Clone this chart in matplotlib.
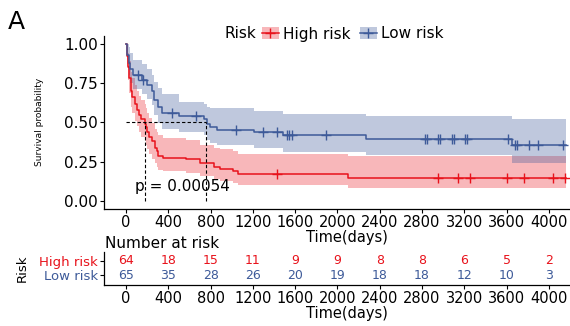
import numpy as np
import matplotlib
matplotlib.use('Agg')
import matplotlib.pyplot as plt
from matplotlib.patches import Patch
from matplotlib.lines import Line2D

# ---------------- data ----------------
end_time = 4160

hi_time  = [0, 10, 20, 30, 45, 60, 85, 100, 120, 140, 178, 185, 200, 220, 245, 270, 290, 305, 350, 570, 700, 830, 890, 1010, 1060, 2100]
hi_surv  = [1.00, 0.92, 0.85, 0.78, 0.70, 0.66, 0.62, 0.58, 0.55, 0.52, 0.49, 0.47, 0.44, 0.41, 0.38, 0.34, 0.32, 0.29, 0.275, 0.265, 0.24, 0.22, 0.205, 0.19, 0.17, 0.15]
hi_upper = [1.00, 0.99, 0.94, 0.89, 0.82, 0.78, 0.74, 0.70, 0.67, 0.64, 0.62, 0.59, 0.56, 0.53, 0.50, 0.46, 0.44, 0.42, 0.40, 0.39, 0.36, 0.34, 0.33, 0.32, 0.30, 0.29]
hi_lower = [1.00, 0.86, 0.77, 0.69, 0.60, 0.56, 0.51, 0.48, 0.44, 0.41, 0.38, 0.36, 0.33, 0.30, 0.27, 0.24, 0.22, 0.20, 0.19, 0.18, 0.16, 0.14, 0.13, 0.115, 0.105, 0.085]
hi_censor = [1425, 2950, 3140, 3250, 3600, 3765, 4035, 4150]

lo_time  = [0, 10, 25, 40, 70, 150, 200, 245, 260, 305, 340, 500, 735, 765, 795, 860, 1210, 1480, 2270, 3650]
lo_surv  = [1.00, 0.93, 0.88, 0.84, 0.80, 0.77, 0.74, 0.70, 0.64, 0.60, 0.56, 0.54, 0.52, 0.49, 0.47, 0.455, 0.437, 0.42, 0.397, 0.36]
lo_upper = [1.00, 1.00, 0.98, 0.94, 0.90, 0.87, 0.84, 0.80, 0.76, 0.72, 0.68, 0.63, 0.615, 0.60, 0.595, 0.594, 0.571, 0.557, 0.54, 0.52]
lo_lower = [1.00, 0.87, 0.80, 0.75, 0.71, 0.68, 0.65, 0.61, 0.55, 0.50, 0.46, 0.44, 0.42, 0.39, 0.37, 0.357, 0.335, 0.314, 0.296, 0.24]
lo_censor = [110, 164, 432, 662, 1040, 1292, 1431, 1519, 1544, 1567, 1891, 2830, 2845,
             2950, 2970, 3080, 3100, 3205, 3225, 3615, 3678, 3700, 3813, 3898, 4135]

median_hi = 180
median_lo = 754
p_text = 'p = 0.00054'

risk_times = [0, 400, 800, 1200, 1600, 2000, 2400, 2800, 3200, 3600, 4000]
risk_hi = [64, 18, 15, 11, 9, 9, 8, 8, 6, 5, 2]
risk_lo = [65, 35, 28, 26, 20, 19, 18, 18, 12, 10, 3]

groups = ['High risk', 'Low risk']
RED = '#E8121B'
BLUE = '#3D5A99'

W, H = 570, 326
fig = plt.figure(figsize=(W / 100, H / 100), dpi=100)

def fx(px):
    return px / W

def fy(py):
    return 1 - py / H

XL = (-209, 4389)
ax = fig.add_axes([fx(104), fy(209), fx(590) - fx(104), fy(36) - fy(209)])
ax.set_xlim(*XL)
ax.set_ylim(-0.05, 1.05)

def draw(t, s, lo, up, cens, color, alpha):
    t = np.array(t + [end_time], float)
    s = np.array(s + [s[-1]])
    lo = np.array(lo + [lo[-1]])
    up = np.array(up + [up[-1]])
    ax.fill_between(t, lo, up, step='post', color=color, alpha=alpha, lw=0)
    ax.step(t, s, where='post', color=color, lw=1.1)
    c = np.array(cens, float)
    idx = np.searchsorted(t, c, side='right') - 1
    ax.plot(c, s[idx], ls='none', marker='+', color=color, ms=7, mew=1.0)

draw(hi_time, hi_surv, hi_lower, hi_upper, hi_censor, RED, 0.3)
draw(lo_time, lo_surv, lo_lower, lo_upper, lo_censor, BLUE, 0.33)

# median lines
ax.plot([0, median_lo], [0.5, 0.5], color='black', lw=0.8, dashes=(3, 2))
ax.plot([median_hi, median_hi], [0, 0.5], color='black', lw=0.8, dashes=(3, 2))
ax.plot([median_lo, median_lo], [0, 0.5], color='black', lw=0.8, dashes=(3, 2))

ax.text(85, 0.095, p_text, fontsize=11, ha='left', va='center')

for sp in ['top', 'right']:
    ax.spines[sp].set_visible(False)
for sp in ['left', 'bottom']:
    ax.spines[sp].set_linewidth(0.9)
ax.set_xticks(risk_times)
ax.set_xticklabels([str(v) for v in risk_times])
ax.set_yticks([0, 0.25, 0.5, 0.75, 1.0])
ax.set_yticklabels(['0.00', '0.25', '0.50', '0.75', '1.00'])
ax.tick_params(axis='y', labelsize=11, length=3, width=0.8, pad=1.5)
ax.tick_params(axis='x', labelsize=10.5, length=3, width=0.8, pad=1.5)

fig.text(fx(40), fy(122), 'Survival probability', rotation=90, ha='center', va='center', fontsize=6.5)
fig.text(fx(347), fy(237.5), 'Time(days)', ha='center', va='center', fontsize=10.5)
fig.text(fx(8), fy(22), 'A', ha='left', va='center', fontsize=18)

# legend
fig.text(fx(224), fy(34), 'Risk', ha='left', va='center', fontsize=11)
handles = [(Patch(facecolor=RED, alpha=0.3, lw=0), Line2D([], [], color=RED, marker='+', lw=1.1, ms=7)),
           (Patch(facecolor=BLUE, alpha=0.33, lw=0), Line2D([], [], color=BLUE, marker='+', lw=1.1, ms=7))]
fig.legend(handles=handles, labels=groups, ncol=2, loc='center left',
           bbox_to_anchor=(fx(262), fy(34)), frameon=False, fontsize=11,
           handlelength=1.1, handleheight=0.8, handletextpad=0.3, columnspacing=0.6,
           borderpad=0, borderaxespad=0)

# risk table: rows at 2 (high) and 1 (low), 14.5 px apart
tab = fig.add_axes([fx(104), fy(285), fx(590) - fx(104), fy(252) - fy(285)])
tab.set_xlim(*XL)
tab.set_ylim(0.31, 2.59)
for t, a, b in zip(risk_times, risk_hi, risk_lo):
    tab.text(t, 2, str(a), color=RED, ha='center', va='center', fontsize=9)
    tab.text(t, 1, str(b), color=BLUE, ha='center', va='center', fontsize=9)
tab.set_yticks([2, 1])
tab.set_yticklabels(groups)
for lab, c in zip(tab.get_yticklabels(), [RED, BLUE]):
    lab.set_color(c)
    lab.set_fontsize(9.5)
tab.set_xticks(risk_times)
tab.set_xticklabels([str(v) for v in risk_times])
tab.tick_params(axis='x', labelsize=10.5, length=3, width=0.8, pad=1.5)
tab.tick_params(axis='y', length=3, width=0.8, pad=1.5)
for sp in ['top', 'right']:
    tab.spines[sp].set_visible(False)
for sp in ['left', 'bottom']:
    tab.spines[sp].set_linewidth(0.9)

fig.text(fx(105), fy(243), 'Number at risk', ha='left', va='center', fontsize=11)
fig.text(fx(22), fy(268), 'Risk', rotation=90, ha='center', va='center', fontsize=9.5)
fig.text(fx(347), fy(313.5), 'Time(days)', ha='center', va='center', fontsize=10.5)

fig.savefig('out.png', dpi=100)
